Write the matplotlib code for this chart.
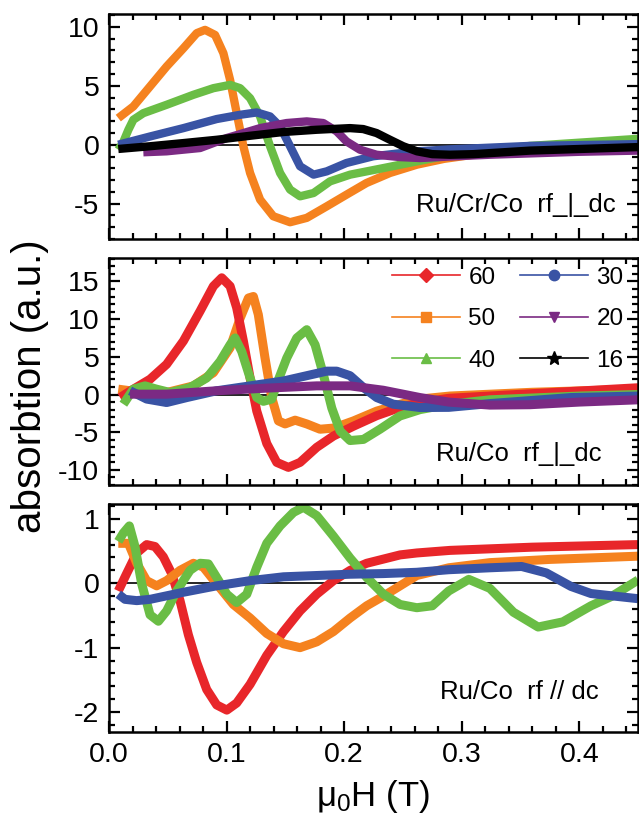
import numpy as np
import matplotlib.pyplot as plt
from matplotlib.ticker import MultipleLocator
from matplotlib.lines import Line2D

plt.rcParams['font.family'] = ['Liberation Sans', 'DejaVu Sans']

# === Colours / legend ===
colors = {'60': '#e8262a', '50': '#f5821f', '40': '#6abd45',
          '30': '#3953a4', '20': '#7b2a83', '16': '#000000'}
markers = {'60': 'D', '50': 's', '40': '^', '30': 'o', '20': 'v', '16': '*'}
legend_order = ['60', '50', '40', '30', '20', '16']

# === Panel 1 : Ru/Cr/Co rf_|_dc ===
p1_50_x = [0.0079, 0.0207, 0.0349, 0.049, 0.0633, 0.0746, 0.0817, 0.0902, 0.0973, 0.103, 0.1086,
           0.1143, 0.12, 0.1285, 0.1397, 0.154, 0.1682, 0.1852, 0.202, 0.219, 0.239, 0.262,
           0.285, 0.31, 0.36, 0.45]
p1_50_y = [2.26, 3.25, 4.95, 6.64, 8.19, 9.47, 9.75, 9.32, 7.77, 5.5, 2.69,
           -0.13, -2.4, -4.66, -6.07, -6.58, -6.21, -5.23, -4.24, -3.25, -2.4, -1.69,
           -1.2, -0.85, -0.4, 0.1]
p1_40_x = [0.0079, 0.012, 0.0165, 0.0207, 0.0292, 0.049, 0.0718, 0.0888, 0.103, 0.1115, 0.12,
           0.1285, 0.137, 0.1455, 0.154, 0.1625, 0.174, 0.188, 0.2051, 0.2335, 0.262, 0.289,
           0.358, 0.45]
p1_40_y = [-0.42, 0.2, 1.27, 2.12, 2.68, 3.39, 4.24, 4.8, 5.08, 4.8, 3.95,
           2.4, -0.13, -2.4, -3.81, -4.38, -4.1, -3.11, -2.54, -1.98, -1.41, -0.9,
           -0.1, 0.5]
p1_30_x = [0.0079, 0.0349, 0.0633, 0.0916, 0.1115, 0.1257, 0.137, 0.1455, 0.154, 0.1625, 0.174,
           0.1852, 0.202, 0.2247, 0.262, 0.289, 0.358, 0.45]
p1_30_y = [0.0, 0.7, 1.41, 2.18, 2.54, 2.74, 2.4, 1.55, -0.13, -1.83, -2.54,
           -2.26, -1.55, -0.98, -0.56, -0.4, -0.1, 0.05]
p1_20_x = [0.0292, 0.049, 0.0775, 0.1002, 0.1285, 0.151, 0.1682, 0.1823, 0.1937, 0.202, 0.2134,
           0.2276, 0.2474, 0.2645, 0.29, 0.324, 0.40, 0.45]
p1_20_y = [-0.64, -0.56, -0.28, 0.57, 1.41, 1.84, 1.98, 1.84, 1.13, 0.28, -0.42,
           -0.85, -1.05, -1.13, -1.0, -0.85, -0.6, -0.5]
p1_16_x = [0.0079, 0.0349, 0.0633, 0.0916, 0.12, 0.1484, 0.1767, 0.205, 0.2162, 0.2276, 0.239,
           0.2503, 0.262, 0.275, 0.29, 0.31, 0.358, 0.45]
p1_16_y = [-0.36, -0.13, 0.14, 0.42, 0.76, 1.08, 1.27, 1.41, 1.33, 0.99, 0.42,
           -0.13, -0.56, -0.8, -0.85, -0.8, -0.5, -0.2]

# === Panel 2 : Ru/Co rf_|_dc ===
p2_60_x = [0.0094, 0.0207, 0.0349, 0.049, 0.0633, 0.0775, 0.0888, 0.0959, 0.103, 0.1086, 0.1143,
           0.12, 0.1257, 0.1342, 0.1427, 0.1526, 0.1625, 0.1767, 0.1909, 0.2079, 0.2277, 0.2474,
           0.2645, 0.289, 0.358, 0.45]
p2_60_y = [-0.4, 0.71, 2.03, 4.01, 7.1, 11.07, 14.37, 15.48, 14.37, 11.5, 7.1,
           2.2, -2.2, -6.5, -9.0, -9.66, -9.0, -7.0, -5.5, -4.2, -2.8, -1.72,
           -1.06, -0.5, 0.1, 0.9]
p2_50_x = [0.0079, 0.0179, 0.0292, 0.049, 0.0718, 0.0888, 0.103, 0.1115, 0.1186, 0.1228, 0.127,
           0.1327, 0.1384, 0.1441, 0.1498, 0.1583, 0.1682, 0.1795, 0.1909, 0.2079, 0.2277, 0.2474,
           0.2645, 0.29, 0.36, 0.45]
p2_50_y = [0.71, 0.5, 0.05, 0.27, 1.15, 2.9, 6.2, 10.1, 12.8, 13.0, 10.6,
           4.85, -0.4, -3.5, -3.9, -3.4, -3.9, -4.6, -4.45, -3.5, -2.2, -1.3,
           -0.6, -0.2, 0.3, 0.7]
p2_40_x = [0.0122, 0.0207, 0.0306, 0.0405, 0.0519, 0.069, 0.0831, 0.0945, 0.103, 0.1072, 0.1129,
           0.12, 0.1257, 0.1313, 0.1384, 0.1427, 0.1512, 0.1597, 0.1682, 0.1753, 0.1824, 0.1895,
           0.1966, 0.205, 0.2164, 0.2305, 0.2474, 0.2645, 0.289, 0.324, 0.40, 0.45]
p2_40_y = [-1.28, 0.71, 1.15, 0.71, 0.27, 0.93, 2.2, 4.4, 6.6, 7.5, 5.7,
           2.2, -0.4, -0.9, -0.6, 1.4, 4.85, 7.5, 8.6, 6.6, 2.6, -1.8,
           -4.85, -6.1, -5.95, -4.6, -2.85, -2.0, -1.3, -0.7, -0.2, 0.0]
p2_30_x = [0.0179, 0.032, 0.049, 0.0662, 0.0916, 0.12, 0.1484, 0.1682, 0.1852, 0.1937, 0.205,
           0.2164, 0.2277, 0.2418, 0.2645, 0.289, 0.324, 0.393, 0.45]
p2_30_y = [0.5, -0.6, -1.06, -0.4, 0.5, 1.15, 1.8, 2.5, 3.1, 3.1, 2.5,
           0.93, -0.4, -1.28, -1.72, -1.7, -1.2, -0.4, -0.2]
p2_20_x = [0.0179, 0.049, 0.0916, 0.1342, 0.1767, 0.205, 0.2333, 0.2645, 0.289, 0.324, 0.358,
           0.40, 0.45]
p2_20_y = [0.05, 0.05, 0.5, 0.85, 1.15, 1.15, 0.57, -0.4, -1.0, -1.4, -1.35,
           -1.0, -0.7]

# === Panel 3 : Ru/Co rf // dc ===
p3_60_x = [0.0079, 0.015, 0.0236, 0.032, 0.0391, 0.0462, 0.0533, 0.0604, 0.0675, 0.0746, 0.0831,
           0.0916, 0.1002, 0.1086, 0.12, 0.1342, 0.1484, 0.1625, 0.1767, 0.1909, 0.2051, 0.2192,
           0.2476, 0.2618, 0.29, 0.36, 0.45]
p3_60_y = [-0.12, 0.15, 0.47, 0.6, 0.57, 0.41, 0.15, -0.27, -0.8, -1.23, -1.65,
           -1.89, -1.97, -1.86, -1.57, -1.12, -0.75, -0.43, -0.17, 0.04, 0.2, 0.31,
           0.44, 0.47, 0.51, 0.56, 0.6]
p3_50_x = [0.0079, 0.0165, 0.0236, 0.032, 0.0405, 0.049, 0.0604, 0.0718, 0.0803, 0.0916, 0.1058,
           0.12, 0.1342, 0.1484, 0.1625, 0.1767, 0.1909, 0.2051, 0.2192, 0.2334, 0.2476, 0.2618,
           0.289, 0.324, 0.375, 0.45]
p3_50_y = [0.62, 0.62, 0.31, 0.04, -0.04, 0.04, 0.2, 0.31, 0.25, -0.01, -0.33,
           -0.54, -0.78, -0.94, -1.0, -0.91, -0.75, -0.54, -0.35, -0.2, -0.04, 0.12,
           0.24, 0.32, 0.37, 0.42]
p3_40_x = [0.0079, 0.0122, 0.0173, 0.0221, 0.0278, 0.0349, 0.042, 0.049, 0.0575, 0.0689, 0.0775,
           0.0845, 0.0916, 0.1002, 0.1086, 0.1172, 0.1257, 0.1342, 0.1455, 0.1569, 0.1654, 0.1767,
           0.1909, 0.2051, 0.2192, 0.2334, 0.2476, 0.2618, 0.275, 0.289, 0.306, 0.324, 0.344,
           0.365, 0.386, 0.41, 0.428, 0.45]
p3_40_y = [0.65, 0.78, 0.89, 0.57, -0.01, -0.49, -0.59, -0.43, -0.12, 0.2, 0.31,
           0.3, 0.09, -0.17, -0.3, -0.17, 0.25, 0.62, 0.89, 1.1, 1.18, 1.05,
           0.73, 0.39, 0.09, -0.17, -0.33, -0.38, -0.35, -0.12, 0.06, -0.08, -0.45,
           -0.68, -0.6, -0.35, -0.2, 0.05]
p3_30_x = [0.0079, 0.0136, 0.0236, 0.0349, 0.0633, 0.0916, 0.12, 0.1484, 0.1767, 0.2051, 0.2334,
           0.2618, 0.289, 0.324, 0.351, 0.372, 0.393, 0.41, 0.45]
p3_30_y = [-0.17, -0.25, -0.27, -0.25, -0.14, -0.04, 0.04, 0.1, 0.12, 0.14, 0.15,
           0.17, 0.21, 0.24, 0.26, 0.16, -0.05, -0.16, -0.24]

panels = [
    {'curves': [('50', p1_50_x, p1_50_y), ('40', p1_40_x, p1_40_y), ('30', p1_30_x, p1_30_y),
                ('20', p1_20_x, p1_20_y), ('16', p1_16_x, p1_16_y)],
     'ylim': (-8, 11.1), 'major': 5, 'minor': 1, 'lw': 6.0,
     'label': 'Ru/Cr/Co  rf_|_dc', 'label_x': 0.957, 'label_y': 0.15},
    {'curves': [('50', p2_50_x, p2_50_y), ('60', p2_60_x, p2_60_y), ('40', p2_40_x, p2_40_y),
                ('30', p2_30_x, p2_30_y), ('20', p2_20_x, p2_20_y)],
     'ylim': (-12, 18.1), 'major': 5, 'minor': 1, 'lw': 6.5,
     'label': 'Ru/Co  rf_|_dc', 'label_x': 0.93, 'label_y': 0.135},
    {'curves': [('60', p3_60_x, p3_60_y), ('50', p3_50_x, p3_50_y), ('40', p3_40_x, p3_40_y),
                ('30', p3_30_x, p3_30_y)],
     'ylim': (-2.31, 1.23), 'major': 1, 'minor': 0.2, 'lw': 6.5,
     'label': 'Ru/Co  rf // dc', 'label_x': 0.926, 'label_y': 0.175},
]

# === Figure ===
fig = plt.figure(figsize=(6.39, 8.26), dpi=100)
boxes = [[0.1706, 0.7107, 0.8279, 0.2724],
         [0.1706, 0.4128, 0.8279, 0.2748],
         [0.1706, 0.1138, 0.8279, 0.2760]]

axes = []
for k, (p, box) in enumerate(zip(panels, boxes)):
    ax = fig.add_axes(box)
    ax.axhline(0, color='black', lw=1.2, zorder=1)
    for name, xs, ys in p['curves']:
        ax.plot(xs, ys, color=colors[name], lw=p['lw'], solid_joinstyle='round',
                solid_capstyle='butt', zorder=2)
    ax.set_xlim(0, 0.45)
    ax.set_ylim(*p['ylim'])
    ax.xaxis.set_major_locator(MultipleLocator(0.1))
    ax.xaxis.set_minor_locator(MultipleLocator(0.02))
    ax.yaxis.set_major_locator(MultipleLocator(p['major']))
    ax.yaxis.set_minor_locator(MultipleLocator(p['minor']))
    ax.tick_params(which='both', direction='in', top=True, right=True, width=1.6,
                   labelsize=20.5, pad=7)
    ax.tick_params(which='major', length=8)
    ax.tick_params(which='minor', length=4.5)
    for s in ax.spines.values():
        s.set_linewidth(1.8)
    if k < 2:
        ax.tick_params(labelbottom=False)
    else:
        ax.xaxis.set_major_formatter(lambda v, pos: f"{v:.1f}")
    ax.yaxis.set_major_formatter(lambda v, pos: f"{v:g}")
    ax.text(p['label_x'], p['label_y'], p['label'], transform=ax.transAxes, ha='right',
            va='center', fontsize=18.5)
    axes.append(ax)

# legend in middle panel
handles = [Line2D([], [], color=colors[n], lw=1.2, marker=markers[n],
                  markersize=10 if n == '16' else 7.5, label=n) for n in legend_order]
axes[1].legend(handles=handles, ncol=2, frameon=False, fontsize=17.5, loc='upper right',
               bbox_to_anchor=(1.0, 1.025), handlelength=2.8, handletextpad=0.35,
               columnspacing=1.0, labelspacing=0.8, borderaxespad=0.2)

fig.text(0.047, 0.533, 'absorbtion (a.u.)', rotation=90, ha='center', va='center',
         fontsize=29)
fig.text(0.584, 0.0135, r'$\mathregular{\mu_0}$H (T)', ha='center', va='bottom', fontsize=25)

fig.savefig('out.png', dpi=100)
